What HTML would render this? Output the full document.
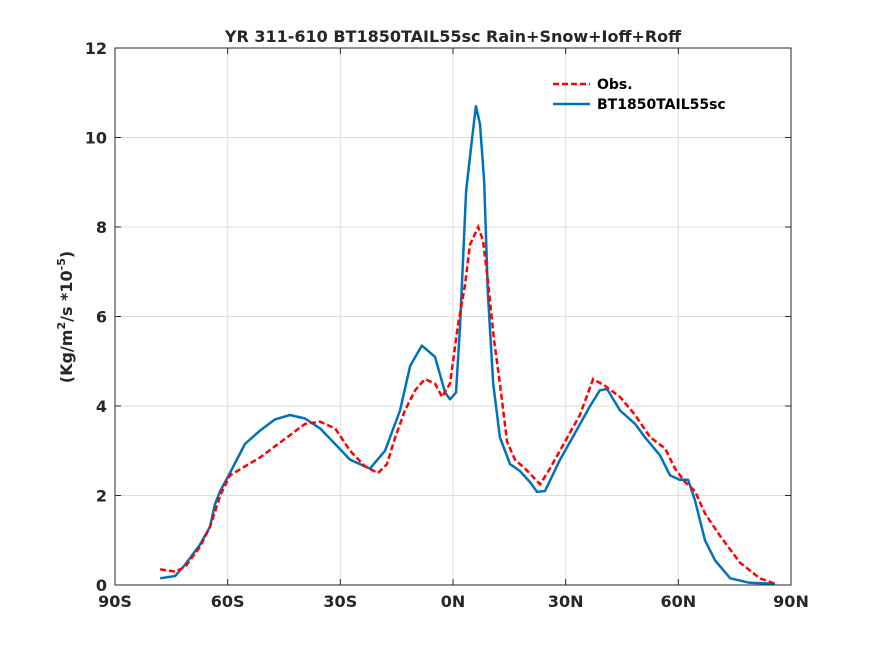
<!DOCTYPE html>
<html><head><meta charset="utf-8"><style>
body{margin:0;background:#fff}
svg text{font-family:"DejaVu Sans","Liberation Sans",sans-serif;font-weight:bold;fill:#262626}
</style></head><body>
<svg id="chart" width="875" height="656" xmlns="http://www.w3.org/2000/svg">
<rect width="875" height="656" fill="#fff"/>
<text x="453" y="42" font-size="16" text-anchor="middle">YR 311-610 BT1850TAIL55sc  Rain+Snow+Ioff+Roff</text>
<g id="grid"></g><g id="series"></g><g id="axes"></g>
<text transform="translate(72,317) rotate(-90)" font-size="16" text-anchor="middle">(Kg/m<tspan dy="-7" font-size="11">2</tspan><tspan dy="7">/s *10</tspan><tspan dy="-7" font-size="11">-5</tspan><tspan dy="7">)</tspan></text>
<g>
<line x1="553" y1="84" x2="590" y2="84" stroke="#ff0000" stroke-width="2.5" stroke-dasharray="6,3"/>
<text x="597" y="89" font-size="14" style="fill:#000">Obs.</text>
<line x1="553" y1="104" x2="590" y2="104" stroke="#0072bd" stroke-width="2.5"/>
<text x="597" y="109" font-size="14" style="fill:#000">BT1850TAIL55sc</text>
</g>
</svg>
<script>
const xTicks=[-90,-60,-30,0,30,60,90];
const xTickLabels=["90S","60S","30S","0N","30N","60N","90N"];
const yTicks=[0,2,4,6,8,10,12];
const modelLat=[-78,-74,-71.4,-67.4,-64.7,-63.4,-62,-59.4,-55.4,-51.4,-47.4,-43.4,-39.4,-35.4,-31.4,-27.4,-22.1,-18.1,-14.1,-11.4,-8.3,-4.8,-2.1,-0.8,0.8,1.9,3.5,5.1,6.1,7.2,8.3,9.3,10.7,12.5,15.2,17.8,20.5,22.4,24.5,28.5,32.5,36.5,39.1,41,44.5,48.5,51.1,55.1,57.8,60.4,62.6,64.4,67.1,69.8,73.8,79,85.7];
const modelVal=[0.15,0.2,0.45,0.9,1.3,1.8,2.1,2.5,3.15,3.45,3.7,3.8,3.72,3.5,3.15,2.8,2.6,3.0,3.9,4.9,5.35,5.1,4.3,4.15,4.3,5.8,8.8,10,10.7,10.3,9,6.5,4.5,3.3,2.7,2.55,2.3,2.08,2.1,2.8,3.4,4.0,4.35,4.38,3.9,3.6,3.3,2.9,2.45,2.35,2.35,1.9,1.0,0.55,0.15,0.05,0.03];
const obsLat=[-78,-74,-71.4,-67.4,-64.7,-62,-59.4,-55.4,-51.4,-47.4,-43.4,-39.4,-35.4,-31.4,-27.4,-23.4,-20,-17.6,-15.4,-12.8,-10.1,-7.5,-4.8,-2.9,-0.8,1.3,3.2,4.5,6.7,8,9.3,10.9,12.5,14.4,16.5,19.2,23.2,25.8,29.8,33.8,37.3,40.5,44.5,48.5,52.5,56.5,59.1,61.8,64.4,67.1,71.1,76.4,81.7,85.7];
const obsVal=[0.35,0.3,0.4,0.85,1.3,2.0,2.45,2.65,2.85,3.1,3.35,3.6,3.65,3.5,3.0,2.65,2.5,2.7,3.3,3.9,4.35,4.6,4.5,4.2,4.5,5.8,6.7,7.6,8.0,7.7,6.8,5.5,4.5,3.2,2.8,2.6,2.25,2.6,3.2,3.8,4.6,4.45,4.2,3.8,3.3,3.05,2.6,2.3,2.1,1.6,1.1,0.5,0.15,0.03];
const L=115,R=791,T=48,B=585;
const sx=v=>L+(v+90)/180*(R-L), sy=v=>B-v/12*(B-T);
const NS="http://www.w3.org/2000/svg";
function mk(tag,attrs,parent){const e=document.createElementNS(NS,tag);for(const k in attrs)e.setAttribute(k,attrs[k]);parent.appendChild(e);return e;}
const grid=document.getElementById('grid'),axes=document.getElementById('axes'),series=document.getElementById('series');
xTicks.forEach((t,i)=>{
 const g=mk('line',{x1:sx(t),x2:sx(t),y1:T,y2:B,stroke:'#dcdcdc','stroke-width':1},grid);
 
 
 mk('line',{x1:sx(t),x2:sx(t),y1:B,y2:B-6,stroke:'#262626'},axes);
 mk('line',{x1:sx(t),x2:sx(t),y1:T,y2:T+6,stroke:'#262626'},axes);
 const tx=mk('text',{x:sx(t),y:B+22,'font-size':16,'text-anchor':'middle'},axes);
 tx.textContent=xTickLabels[i];
 
 
});
yTicks.forEach(t=>{
 const g=mk('line',{x1:L,x2:R,y1:sy(t),y2:sy(t),stroke:'#dcdcdc','stroke-width':1},grid);
 
 
 mk('line',{x1:L,x2:L+6,y1:sy(t),y2:sy(t),stroke:'#262626'},axes);
 mk('line',{x1:R,x2:R-6,y1:sy(t),y2:sy(t),stroke:'#262626'},axes);
 const tx=mk('text',{x:L-8,y:sy(t)+6,'font-size':16,'text-anchor':'end'},axes);
 tx.textContent=String(t);
 
 
});
const box=mk('rect',{x:L,y:T,width:R-L,height:B-T,fill:'none',stroke:'#262626','stroke-width':1},axes);


function pts(la,va){return la.map((l,i)=>sx(l).toFixed(1)+','+sy(va[i]).toFixed(1)).join(' ');}
const m=mk('polyline',{points:pts(modelLat,modelVal),fill:'none',stroke:'#0072bd','stroke-width':2.5,'stroke-linejoin':'round'},series);


const o=mk('polyline',{points:pts(obsLat,obsVal),fill:'none',stroke:'#ff0000','stroke-width':2.5,'stroke-dasharray':'6,3'},series);


</script>
</body></html>
